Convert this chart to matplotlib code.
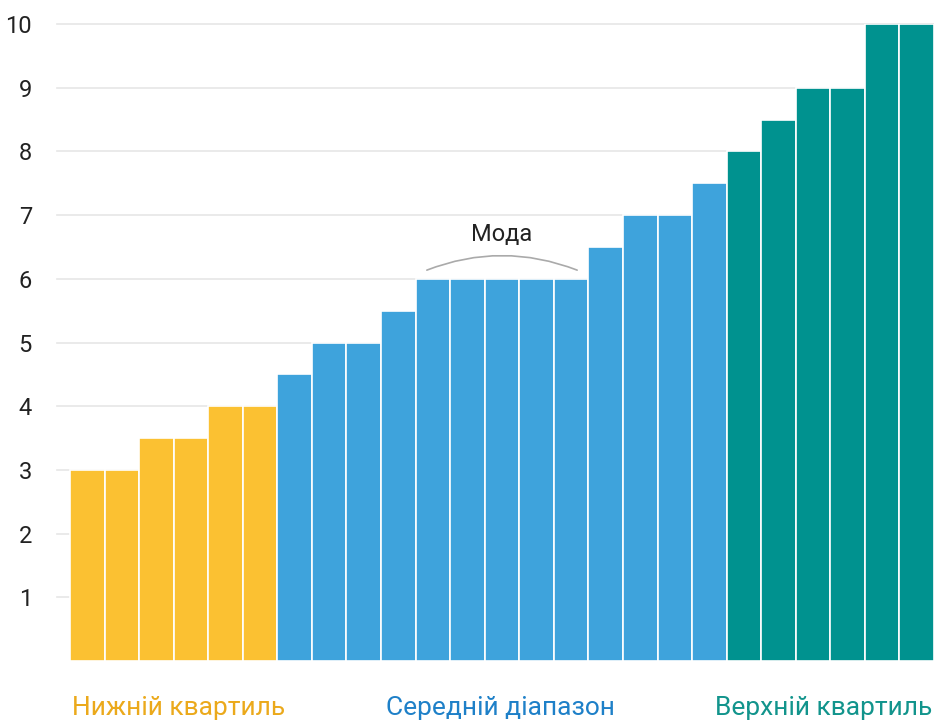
import matplotlib.pyplot as plt
from matplotlib.patches import FancyArrowPatch
import numpy as np

plt.rcParams['font.family'] = ['Roboto', 'DejaVu Sans']

lower = [3, 3, 3.5, 3.5, 4, 4]
middle = [4.5, 5, 5, 5.5, 6, 6, 6, 6, 6, 6.5, 7, 7, 7.5]
upper = [8, 8.5, 9, 9, 10, 10]
group_names = ['Нижній квартиль', 'Середній діапазон', 'Верхній квартиль']
bar_colors = ['#FBC132', '#3EA3DC', '#00928F']
text_colors = ['#EBA91B', '#1E80C8', '#12948C']
yticks = [1, 2, 3, 4, 5, 6, 7, 8, 9, 10]

values = lower + middle + upper
colors = [bar_colors[0]] * len(lower) + [bar_colors[1]] * len(middle) + [bar_colors[2]] * len(upper)
x = np.arange(len(values))

fig = plt.figure(figsize=(9.34, 7.2), dpi=100)
ax = fig.add_axes([57 / 934, 1 - 661 / 720, 1 - 57 / 934, (661 - 24) / 720])

ax.bar(x, values, width=1.0, color=colors, edgecolor='white', linewidth=1.2, zorder=2)

# bars start at 70px, axes at 57px
bw = (934 - 70) / 25
ax.set_xlim(-0.5 - 13 / bw, len(values) - 0.5)
ax.set_ylim(0, 10)

ax.set_yticks(yticks)
ax.set_yticklabels([str(t) for t in yticks], fontsize=17, color='#222222')
ax.tick_params(axis='y', length=0, pad=18)
ax.set_xticks([])
ax.grid(axis='y', color='#e6e6e6', linewidth=1.2, zorder=0)
for s in ax.spines.values():
    s.set_visible(False)
for gl in ax.get_ygridlines():
    gl.set_clip_on(False)

# mode annotation
arc = FancyArrowPatch((9.75, 6.12), (14.25, 6.12), arrowstyle='-',
                      connectionstyle='arc3,rad=-0.2', color='#aaaaaa', lw=1.2, zorder=3)
ax.add_patch(arc)
ax.text(12, 6.52, 'Мода', ha='center', va='bottom', fontsize=17, color='#222222')

# group labels
fig.text(72 / 934, 1 - 708 / 720, group_names[0], ha='left', va='center', fontsize=19, color=text_colors[0])
fig.text(500 / 934, 1 - 708 / 720, group_names[1], ha='center', va='center', fontsize=19, color=text_colors[1])
fig.text(932 / 934, 1 - 708 / 720, group_names[2], ha='right', va='center', fontsize=19, color=text_colors[2])

plt.savefig('out.png', dpi=100)
